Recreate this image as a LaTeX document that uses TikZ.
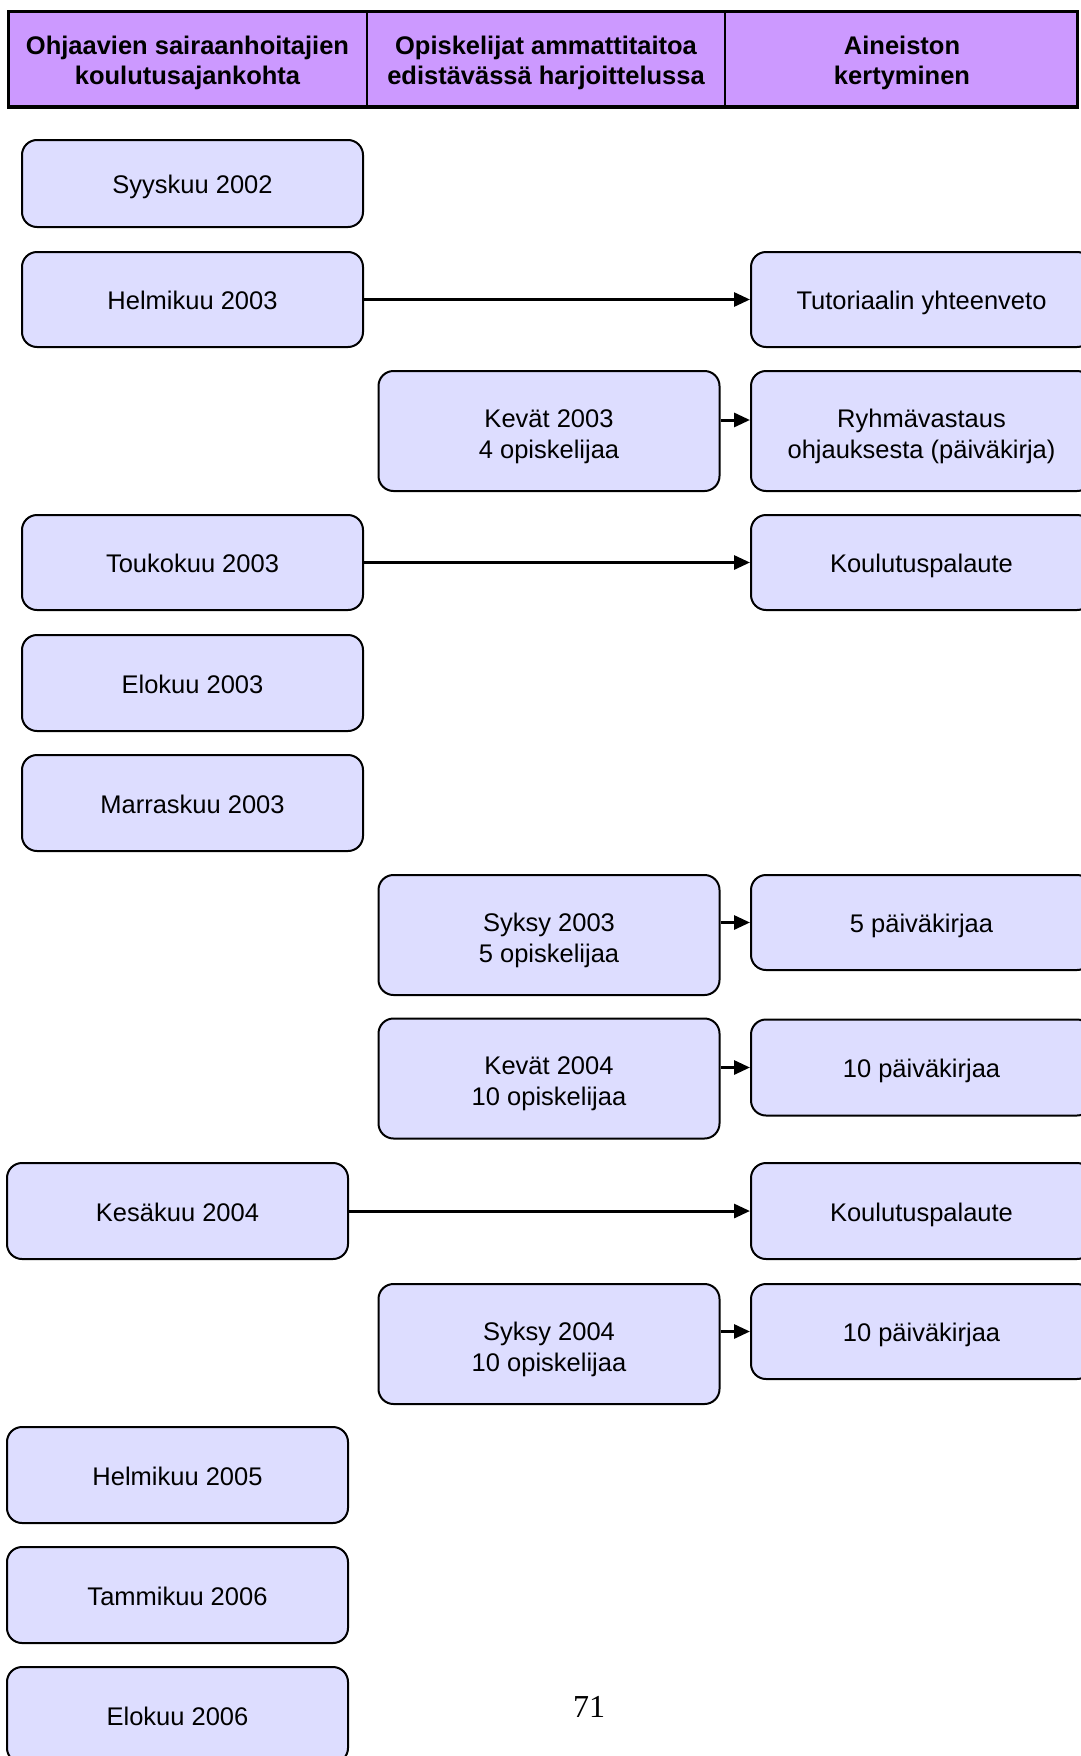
\documentclass[tikz,border=0pt]{standalone}
\usepackage{fontspec}
\setmainfont{Liberation Sans}
\newfontfamily\pagefont{Liberation Serif}
\usetikzlibrary{arrows.meta}
\definecolor{headfill}{HTML}{CC99FF}
\definecolor{boxfill}{HTML}{DDDDFF}
\tikzset{
  box/.style={draw, line width=2pt, fill=boxfill, rounded corners=15pt,
    minimum width=341pt, minimum height=96pt, inner sep=0pt, align=center,
    text height=21pt, text depth=0.6pt,
    font=\fontsize{25.5}{31}\selectfont},
  tallbox/.style={box, minimum height=120pt, text height=54pt, text depth=0pt},
  headtext/.style={align=center, font=\bfseries\fontsize{25.5}{30}\selectfont},
  arr/.style={line width=3pt, -{Triangle[length=16pt,width=14pt]}}
}
\begin{document}
\begin{tikzpicture}[x=1pt,y=-1pt]
    \useasboundingbox (0,0) rectangle (1081,1756);
    \clip (0,0) rectangle (1081,1756);

    \draw[line width=3.5pt, fill=headfill] (8.5,11.5) rectangle (1077.5,107);
    \draw[line width=2.5pt] (367,11.5) -- (367,107);
    \draw[line width=2.5pt] (725,11.5) -- (725,107);
    \node[headtext] (hdA) at (187.5,62.5) {Ohjaavien sairaanhoitajien\\koulutusajankohta};
    \node[headtext] (hdB) at (546,62.5) {Opiskelijat ammattitaitoa\\edistävässä harjoittelussa};
    \node[headtext] (hdC) at (902,62.5) {Aineiston\\kertyminen};

    \node[box, minimum height=87pt] (syy02) at (192.5,183.5) {Syyskuu 2002};
    \node[box, minimum height=95pt] (hel03) at (192.5,299.5) {Helmikuu 2003};
    \node[box, minimum height=95pt] (tou03) at (192.5,562.5) {Toukokuu 2003};
    \node[box] (elo03) at (192.5,683) {Elokuu 2003};
    \node[box] (mar03) at (192.5,803) {Marraskuu 2003};
    \node[box] (kes04) at (177.5,1211) {Kesäkuu 2004};
    \node[box] (hel05) at (177.5,1475) {Helmikuu 2005};
    \node[box] (tam06) at (177.5,1595) {Tammikuu 2006};
    \node[box] (elo06) at (177.5,1715) {Elokuu 2006};

    \node[tallbox] (kev03) at (549,431) {Kevät 2003\\4 opiskelijaa};
    \node[tallbox] (syk03) at (549,935) {Syksy 2003\\5 opiskelijaa};
    \node[tallbox] (kev04) at (549,1078.5) {Kevät 2004\\10 opiskelijaa};
    \node[tallbox] (syk04) at (549,1344) {Syksy 2004\\10 opiskelijaa};

    \node[box, minimum height=95pt] (tut) at (921.5,299.5) {Tutoriaalin yhteenveto};
    \node[tallbox] (ryh) at (921.5,431) {Ryhmävastaus\\ohjauksesta (päiväkirja)};
    \node[box, minimum height=95pt] (kou1) at (921.5,562.5) {Koulutuspalaute};
    \node[box, minimum height=95pt] (pk5) at (921.5,922.5) {5 päiväkirjaa};
    \node[box] (pk10a) at (921.5,1067.5) {10 päiväkirjaa};
    \node[box] (kou2) at (921.5,1211) {Koulutuspalaute};
    \node[box, minimum height=95pt] (pk10b) at (921.5,1331.5) {10 päiväkirjaa};

    \draw[arr] (hel03.east) -- (tut.west);
    \draw[arr] ([yshift=11pt]kev03.east) -- ([yshift=11pt]ryh.west);
    \draw[arr] (tou03.east) -- (kou1.west);
    \draw[arr] (syk03.east |- pk5.west) -- (pk5.west);
    \draw[arr] (kev04.east |- pk10a.west) -- (pk10a.west);
    \draw[arr] (kes04.east) -- (kou2.west);
    \draw[arr] (syk04.east |- pk10b.west) -- (pk10b.west);

    \node[font=\pagefont\fontsize{32}{36}\selectfont] (pnum) at (589,1707) {71};
\end{tikzpicture}
\end{document}
